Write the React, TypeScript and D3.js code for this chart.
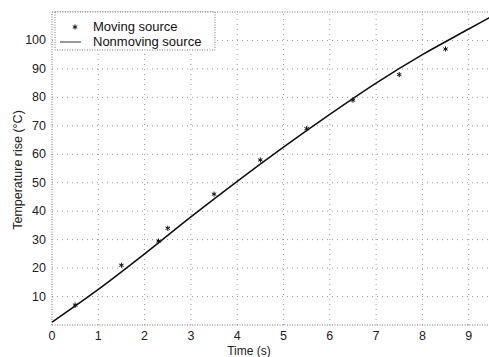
import React from "react";
import * as d3 from "d3";

const xTicks = [0, 1, 2, 3, 4, 5, 6, 7, 8, 9];
const yTicks = [10, 20, 30, 40, 50, 60, 70, 80, 90, 100];

const nonmovingT = [0, 1, 2, 3, 4, 5, 6, 7, 8, 9, 9.5];
const nonmovingV = [1, 12.5, 25, 38, 50.5, 62.5, 74, 85, 95, 104, 108.5];

const movingT = [0.5, 1.5, 2.3, 2.5, 3.5, 4.5, 5.5, 6.5, 7.5, 8.5];
const movingV = [7, 21, 29.5, 34, 46, 58, 69, 79, 88, 97];

const W = 489;
const H = 357;
const M = { left: 52, top: 12, right: 0, bottom: 32 };

export default function App() {
  const x = d3.scaleLinear().domain([0, 9.5]).range([M.left, M.left + 9.5 * 46.3]);
  const y = d3.scaleLinear().domain([0, 110]).range([H - M.bottom, M.top]);
  const line = d3
    .line<number>()
    .x((_, i) => x(nonmovingT[i]))
    .y((d) => y(d))
    .curve(d3.curveMonotoneX);
  const grid = "#9a9a9a";
  const font = "'Liberation Sans', Arial, sans-serif";
  const star = d3.symbol(d3.symbolAsterisk ?? d3.symbolCross, 18)();
  return (
    <svg
      width={W}
      height={H}
      style={{ position: "absolute", left: 0, top: 0, background: "#fff" }}
      fontFamily={font}
    >
      {xTicks.slice(1).map((t) => (
        <line
          key={"gx" + t}
          x1={x(t)}
          x2={x(t)}
          y1={y(0)}
          y2={y(110)}
          stroke={grid}
          strokeWidth={1}
          strokeDasharray="1,4"
        />
      ))}
      {yTicks.map((t) => (
        <line
          key={"gy" + t}
          x1={x(0)}
          x2={W}
          y1={y(t)}
          y2={y(t)}
          stroke={grid}
          strokeWidth={1}
          strokeDasharray="1,4"
        />
      ))}
      <line x1={x(0)} x2={W} y1={y(0)} y2={y(0)} stroke="#777" strokeDasharray="1,1.5" />
      <line x1={x(0)} x2={W} y1={y(110)} y2={y(110)} stroke="#777" strokeDasharray="1,1.5" />
      <line x1={x(0)} x2={x(0)} y1={y(0)} y2={y(110)} stroke="#777" strokeDasharray="1,1.5" />
      {xTicks.map((t) => (
        <text key={"tx" + t} x={x(t)} y={y(0) + 15} fontSize={12.5} textAnchor="middle" fill="#222">
          {t}
        </text>
      ))}
      {yTicks.map((t) => (
        <text key={"ty" + t} x={x(0) - 6} y={y(t) + 4} fontSize={12.5} textAnchor="end" fill="#222">
          {t}
        </text>
      ))}
      <text x={249} y={H - 2} fontSize={12} textAnchor="middle" fill="#222">
        Time (s)
      </text>
      <text
        transform={`translate(22,${170}) rotate(-90)`}
        fontSize={12.5}
        textAnchor="middle"
        fill="#222"
      >
        Temperature rise (°C)
      </text>
      <path d={line(nonmovingV) ?? ""} fill="none" stroke="#111" strokeWidth={1.6} />
      {movingV.map((v, i) => (
        <path
          key={"m" + i}
          d={star ?? ""}
          transform={`translate(${x(movingT[i])},${y(v)})`}
          fill="#111"
          stroke="#111"
          strokeWidth={1}
        />
      ))}
      <rect x={55} y={12} width={160} height={38} fill="#fff" stroke="#777" strokeDasharray="1,1.5" />
      <path d={star ?? ""} transform="translate(75,27)" fill="#111" stroke="#111" />
      <text x={93} y={31} fontSize={13} fill="#111">
        Moving source
      </text>
      <line x1={60} x2={81} y1={42} y2={42} stroke="#333" strokeWidth={1} />
      <text x={93} y={46} fontSize={13} fill="#111">
        Nonmoving source
      </text>
    </svg>
  );
}
